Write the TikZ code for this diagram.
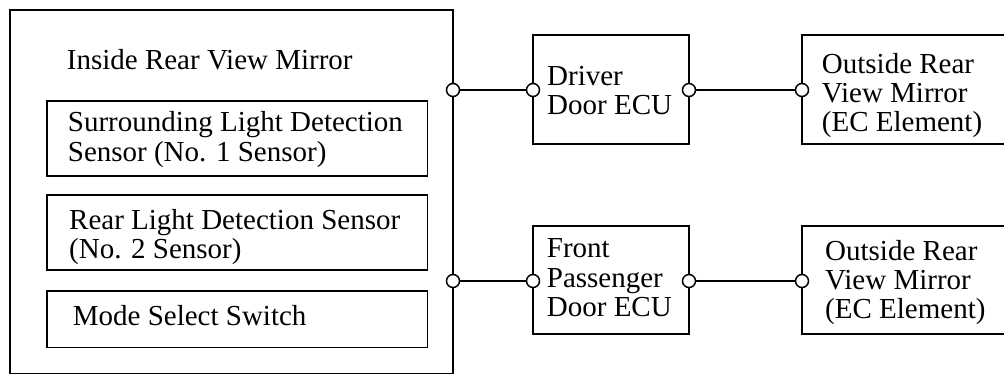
\documentclass[tikz,border=0pt]{standalone}
\usepackage{fontspec}
\setmainfont{Liberation Serif}
\begin{document}
\begin{tikzpicture}[x=1pt,y=-1pt,
  box/.style={draw,line width=1.7pt,rectangle,inner sep=0pt,minimum width=#1},
  lbl/.style={anchor=base west,inner sep=0pt,font=\fontsize{29}{29.3}\selectfont},
  port/.style={circle,draw,line width=1.5pt,fill=white,minimum size=13pt,inner sep=0pt},
  wire/.style={line width=1.7pt}]
\useasboundingbox (0,0) rectangle (1004,375);
% boxes
\node[box=443pt,minimum height=363.5pt] (mirror) at (231.5,191.75) {};
\node[box=380.5pt,minimum height=75pt] (s1) at (237.25,138.5) {};
\node[box=380.5pt,minimum height=75pt] (s2) at (237.25,232.5) {};
\node[box=380.5pt,minimum height=56.5pt] (sw) at (237.25,319.25) {};
\node[box=156pt,minimum height=109pt] (drv) at (611,89.5) {};
\node[box=210pt,minimum height=109pt] (om1) at (907,89.5) {};
\node[box=156pt,minimum height=108pt] (fp) at (611,280) {};
\node[box=210pt,minimum height=108pt] (om2) at (907,280) {};
% texts
\node[lbl] (t0) at (66.7,69) {Inside Rear View Mirror};
\node[lbl] (t1) at (67.7,131.7) {\begin{tabular}[t]{@{}l@{}}Surrounding Light Detection\\Sensor (No. 1 Sensor)\end{tabular}};
\node[lbl] (t2) at (69,229) {\begin{tabular}[t]{@{}l@{}}Rear Light Detection Sensor\\(No. 2 Sensor)\end{tabular}};
\node[lbl] (t3) at (72.7,325) {Mode Select Switch};
\node[lbl] (t4) at (547,85) {\begin{tabular}[t]{@{}l@{}}Driver\\Door ECU\end{tabular}};
\node[lbl] (t5) at (821.7,73.3) {\begin{tabular}[t]{@{}l@{}}Outside Rear\\View Mirror\\(EC Element)\end{tabular}};
\node[lbl] (t6) at (546.7,257.7) {\begin{tabular}[t]{@{}l@{}}Front\\Passenger\\Door ECU\end{tabular}};
\node[lbl] (t7) at (825,260) {\begin{tabular}[t]{@{}l@{}}Outside Rear\\View Mirror\\(EC Element)\end{tabular}};
% ports
\node[port] (p1) at (453,90) {};
\node[port] (p2) at (533,90) {};
\node[port] (p3) at (689,90) {};
\node[port] (p4) at (802,90) {};
\node[port] (q1) at (453,281) {};
\node[port] (q2) at (533,281) {};
\node[port] (q3) at (689,281) {};
\node[port] (q4) at (802,281) {};
% wires
\draw[wire] (p1) -- (p2);
\draw[wire] (p3) -- (p4);
\draw[wire] (q1) -- (q2);
\draw[wire] (q3) -- (q4);
\end{tikzpicture}
\end{document}
